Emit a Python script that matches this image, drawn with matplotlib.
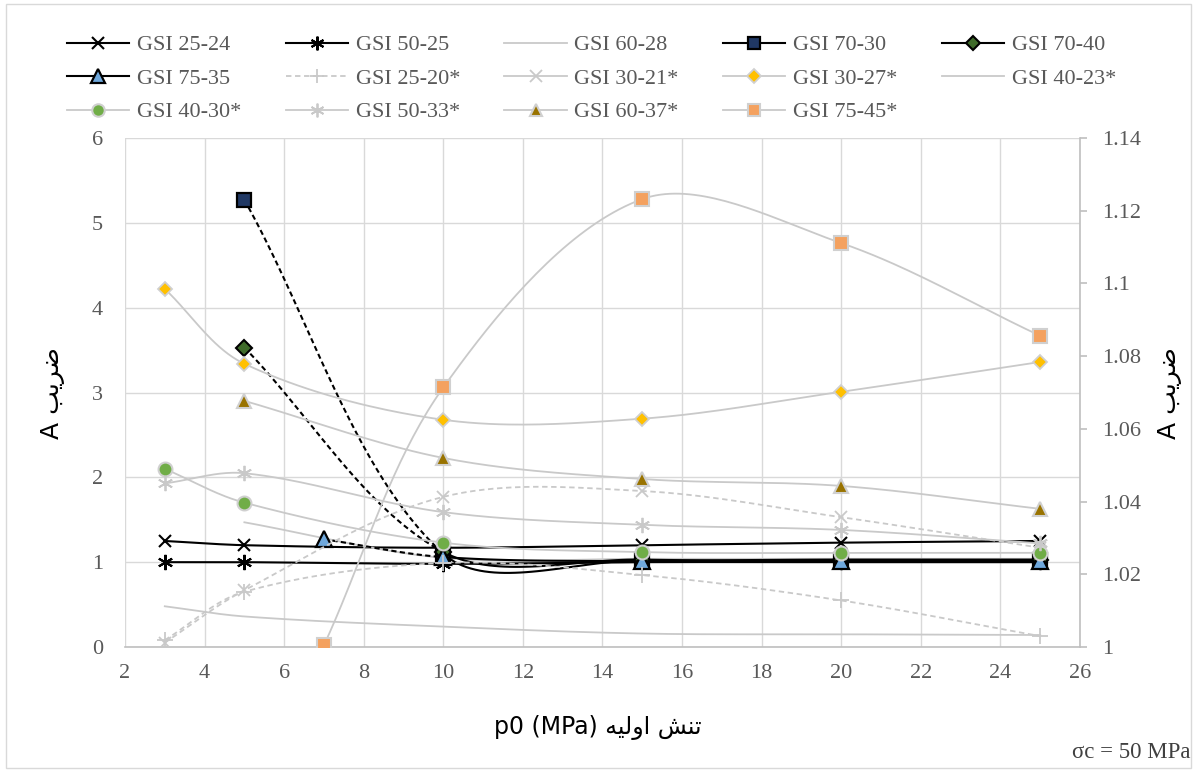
import matplotlib
matplotlib.use("Agg")
import matplotlib.pyplot as plt
from matplotlib.lines import Line2D
from matplotlib.patches import Rectangle
from matplotlib.ticker import FuncFormatter
import numpy as np

plt.rcParams["font.family"] = ["Liberation Serif", "DejaVu Sans"]

# ---- data (p0 in MPa, coefficient A) ----
x_25_24 = [3, 5, 10, 15, 20, 25]
a_25_24 = [1.25, 1.20, 1.17, 1.20, 1.23, 1.25]
x_50_25 = [3, 5, 10, 15, 20, 25]
a_50_25 = [1.00, 1.00, 0.98, 1.00, 1.00, 1.00]
x_60_28 = [5, 10, 15, 20, 25]
a_60_28 = [1.47, 1.05, 1.04, 1.04, 1.04]
x_70_30 = [5, 10, 15, 20, 25]
a_70_30 = [5.27, 1.10, 1.02, 1.02, 1.02]
x_70_40 = [5, 10, 15, 20, 25]
a_70_40 = [3.53, 1.12, 1.03, 1.03, 1.03]
x_75_35 = [7, 10, 15, 20, 25]
a_75_35 = [1.27, 1.06, 1.01, 1.01, 1.01]

# starred series are on the secondary axis
x_25_20s = [3, 5, 10, 15, 20, 25]
a_25_20s = [1.0019, 1.0152, 1.0231, 1.0198, 1.0128, 1.0030]
x_30_21s = [3, 5, 10, 15, 20, 25]
a_30_21s = [1.0012, 1.0156, 1.0413, 1.0429, 1.0357, 1.0273]
x_30_27s = [3, 5, 10, 15, 20, 25]
a_30_27s = [1.0985, 1.0779, 1.0625, 1.0628, 1.0702, 1.0784]
x_40_23s = [3, 5, 10, 15, 20, 25]
a_40_23s = [1.0112, 1.0084, 1.0056, 1.0037, 1.0035, 1.0033]
x_40_30s = [3, 5, 10, 15, 20, 25]
a_40_30s = [1.0490, 1.0397, 1.0287, 1.0261, 1.0259, 1.0259]
x_50_33s = [3, 5, 10, 15, 20, 25]
a_50_33s = [1.0450, 1.0478, 1.0371, 1.0336, 1.0322, 1.0285]
x_60_37s = [5, 10, 15, 20, 25]
a_60_37s = [1.0677, 1.0520, 1.0462, 1.0443, 1.0380]
x_75_45s = [7, 10, 15, 20, 25]
a_75_45s = [1.0005, 1.0714, 1.1232, 1.1111, 1.0856]

x_ticks = list(range(2, 27, 2))
y_ticks = list(range(0, 7))
y2_ticks = [1.0, 1.02, 1.04, 1.06, 1.08, 1.10, 1.12, 1.14]

series = [
    ("GSI 25-24", x_25_24, a_25_24, 1),
    ("GSI 50-25", x_50_25, a_50_25, 1),
    ("GSI 60-28", x_60_28, a_60_28, 1),
    ("GSI 70-30", x_70_30, a_70_30, 1),
    ("GSI 70-40", x_70_40, a_70_40, 1),
    ("GSI 75-35", x_75_35, a_75_35, 1),
    ("GSI 25-20*", x_25_20s, a_25_20s, 2),
    ("GSI 30-21*", x_30_21s, a_30_21s, 2),
    ("GSI 30-27*", x_30_27s, a_30_27s, 2),
    ("GSI 40-23*", x_40_23s, a_40_23s, 2),
    ("GSI 40-30*", x_40_30s, a_40_30s, 2),
    ("GSI 50-33*", x_50_33s, a_50_33s, 2),
    ("GSI 60-37*", x_60_37s, a_60_37s, 2),
    ("GSI 75-45*", x_75_45s, a_75_45s, 2),
]

GRAY = "#c9c9c9"
EDGE = "#d0d0d0"
ASTER = (6, 2, 0)
DASH = (0, (3, 2))

styles = {
    "GSI 25-24": dict(color="black", lw=1.5, marker="x", ms=9, mfc="none", mec="black", mew=1.5),
    "GSI 50-25": dict(color="black", lw=1.5, marker=ASTER, ms=11, mfc="none", mec="black", mew=1.5),
    "GSI 60-28": dict(color=GRAY, lw=1.3, marker=None),
    "GSI 70-30": dict(color="black", lw=1.5, marker="s", ms=10, mfc="#203864", mec="black", mew=1.6),
    "GSI 70-40": dict(color="black", lw=1.5, marker="D", ms=8, mfc="#3f6b2a", mec="black", mew=1.5),
    "GSI 75-35": dict(color="black", lw=1.5, marker="^", ms=11, mfc="#6fa8dc", mec="black", mew=1.6),
    "GSI 25-20*": dict(color=GRAY, lw=1.3, ls=DASH, marker="+", ms=11, mfc="none", mec=GRAY, mew=1.3),
    "GSI 30-21*": dict(color=GRAY, lw=1.3, ls=DASH, marker="x", ms=9, mfc="none", mec=GRAY, mew=1.3),
    "GSI 30-27*": dict(color=GRAY, lw=1.3, marker="D", ms=7.5, mfc="#FFC000", mec=EDGE, mew=1.3),
    "GSI 40-23*": dict(color=GRAY, lw=1.3, marker=None),
    "GSI 40-30*": dict(color=GRAY, lw=1.3, marker="o", ms=10, mfc="#70AD47", mec=EDGE, mew=1.5),
    "GSI 50-33*": dict(color=GRAY, lw=1.3, marker=ASTER, ms=11, mfc="none", mec=GRAY, mew=1.3),
    "GSI 60-37*": dict(color=GRAY, lw=1.3, marker="^", ms=10, mfc="#997300", mec=EDGE, mew=1.5),
    "GSI 75-45*": dict(color=GRAY, lw=1.3, marker="s", ms=10, mfc="#F4A15F", mec=EDGE, mew=1.5),
}
# black series drawn dashed up to p0 = 10, solid afterwards
dashed_until = {"GSI 70-30": 10, "GSI 70-40": 10, "GSI 75-35": 10}

W, H = 1197, 772
AX_L, AX_R, AX_T, AX_B = 125, 1080, 138, 647


def smooth(xs, ys, sx, sy, n=40):
    # excel-like smoothed line, built in pixel space
    pts = np.column_stack([np.asarray(xs, float) * sx, np.asarray(ys, float) * sy])
    m = len(pts)
    out = [pts[0]]
    t = np.linspace(0, 1, n)[1:, None]
    for i in range(m - 1):
        p0 = pts[max(i - 1, 0)]
        p1 = pts[i]
        p2 = pts[i + 1]
        p3 = pts[min(i + 2, m - 1)]
        d01 = np.hypot(*(p1 - p0))
        d12 = np.hypot(*(p2 - p1))
        d23 = np.hypot(*(p3 - p2))
        c1 = p1 + (p2 - p0) * d12 / (d01 + d12) / 3
        c2 = p2 - (p3 - p1) * d12 / (d12 + d23) / 3
        seg = (1 - t) ** 3 * p1 + 3 * (1 - t) ** 2 * t * c1 + 3 * (1 - t) * t ** 2 * c2 + t ** 3 * p2
        out.extend(seg)
    out = np.array(out)
    return out[:, 0] / sx, out[:, 1] / sy


fig = plt.figure(figsize=(W / 100, H / 100), dpi=100)
fig.patches.append(Rectangle((6 / W, 4 / H), (W - 12) / W, (H - 8) / H, transform=fig.transFigure,
                             fill=False, edgecolor="#d9d9d9", lw=1.0))

ax = fig.add_axes([AX_L / W, 1 - AX_B / H, (AX_R - AX_L) / W, (AX_B - AX_T) / H])
ax.set_xlim(2, 26)
ax.set_ylim(0, 6)
ax.set_xticks(x_ticks)
ax.set_yticks(y_ticks)
ax.grid(True, color="#d9d9d9", lw=1.0)
ax.set_axisbelow(True)
for s in ["top", "left", "right"]:
    ax.spines[s].set_visible(False)
ax.spines["bottom"].set_color("#bfbfbf")
ax.spines["bottom"].set_linewidth(1.2)
ax.tick_params(axis="x", length=0, labelsize=16, labelcolor="#595959", pad=12)
ax.tick_params(axis="y", length=0, labelsize=16, labelcolor="#595959", pad=16)

ax2 = ax.twinx()
ax2.set_ylim(1, 1.14)
ax2.set_yticks(y2_ticks)
ax2.yaxis.set_major_formatter(FuncFormatter(lambda v, _: f"{round(v, 2):g}"))
for s in ["top", "left", "bottom"]:
    ax2.spines[s].set_visible(False)
ax2.spines["right"].set_color("#bfbfbf")
ax2.spines["right"].set_linewidth(1.2)
ax2.tick_params(axis="y", direction="out", length=5, width=1.2, color="#bfbfbf",
                labelsize=16, labelcolor="#595959", pad=11)

px_w = AX_R - AX_L
px_h = AX_B - AX_T
handles = []
for k, (name, xs, ys, which) in enumerate(series):
    st = styles[name]
    target = ax if which == 1 else ax2
    sy = px_h / (6.0 if which == 1 else 0.14)
    sx = px_w / 24.0
    cx, cy = smooth(xs, ys, sx, sy)
    z = 3 + k * 0.05
    ls = st.get("ls", "-")
    if name in dashed_until:
        cut = dashed_until[name]
        first = cx <= cut + 1e-9
        target.plot(cx[first], cy[first], color=st["color"], lw=st["lw"], ls=(0, (2.5, 1.6)), zorder=z)
        target.plot(cx[cx >= cut - 1e-9], cy[cx >= cut - 1e-9], color=st["color"], lw=st["lw"], zorder=z)
    else:
        target.plot(cx, cy, color=st["color"], lw=st["lw"], ls=ls, zorder=z)
    if st["marker"] is not None:
        target.plot(xs, ys, ls="none", marker=st["marker"], ms=st["ms"], mfc=st["mfc"],
                    mec=st["mec"], mew=st["mew"], zorder=z + 0.01)
    legend_ls = "-" if name == "GSI 30-21*" else ls
    handles.append(Line2D([], [], color=st["color"], lw=st["lw"], ls=legend_ls,
                          marker=st["marker"] if st["marker"] is not None else "",
                          ms=st.get("ms", 0) * 0.9, mfc=st.get("mfc", "none"),
                          mec=st.get("mec", st["color"]), mew=st.get("mew", 1)))

labels = [s[0] for s in series]
order = [0, 5, 10, 1, 6, 11, 2, 7, 12, 3, 8, 13, 4, 9]
leg = fig.legend([handles[i] for i in order], [labels[i] for i in order], ncol=5,
                 loc="upper left", bbox_to_anchor=(58 / W, 1 - 26 / H), frameon=False,
                 fontsize=16, handlelength=2.8, handletextpad=0.35, columnspacing=2.0,
                 labelspacing=0.58, borderaxespad=0)
for txt in leg.get_texts():
    txt.set_color("#595959")

# axis titles (Persian, written in presentation forms, visual order)
y_title = "A " + "\uFE90\uFBFE\uFEAE\uFEBF"
x_title = "p0 (MPa) " + "\uFEEA\uFBFF\uFEDF\uFEED\uFE8D" + " " + "\uFEB6\uFEE8\uFE97"
fig.text(53 / W, 1 - 393 / H, y_title, rotation=90, ha="center", va="center",
         fontsize=18, family=["DejaVu Sans"], color="black")
fig.text(1170 / W, 1 - 393 / H, y_title, rotation=90, ha="center", va="center",
         fontsize=18, family=["DejaVu Sans"], color="black")
fig.text(598 / W, 1 - 727 / H, x_title, ha="center", va="center",
         fontsize=17, family=["DejaVu Sans"], color="black")
fig.text(1190 / W, 1 - 752 / H, "\u03c3c = 50 MPa", ha="right", va="center",
         fontsize=16.5, color="#404040")

fig.savefig("out.png", dpi=100)
